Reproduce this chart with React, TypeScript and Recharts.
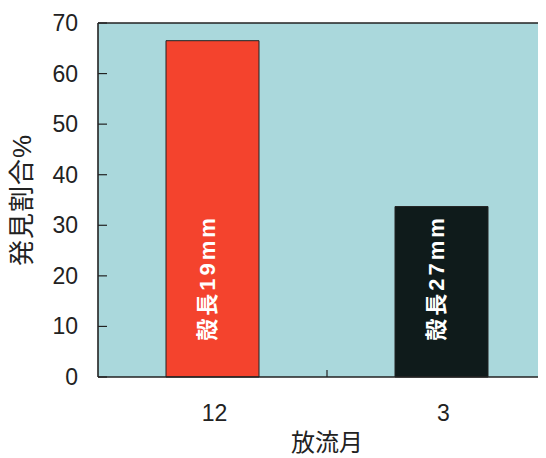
import React from "react";
import {
  BarChart,
  Bar,
  XAxis,
  YAxis,
  CartesianGrid,
  ReferenceLine,
  LabelList,
  Label,
  Cell,
} from "recharts";

// release month, share of shells found (%), shell length at release
const months = ["12", "3"];
const foundRates = [66.5, 33.7];
const shellLengths = ["殻長19mm", "殻長27mm"];
const yTicks = [0, 10, 20, 30, 40, 50, 60, 70];
const barColors = ["#f4432d", "#0f1b1b"];

const data = months.map((m, i) => ({
  month: m,
  rate: foundRates[i],
  size: shellLengths[i],
}));

const FONT = "'Liberation Sans', 'Noto Sans CJK JP', sans-serif";
const INK = "#222";

// y ticks point into the plot
const YTick = (props: any) => {
  const { x, y, payload } = props;
  return (
    <g>
      <line x1={x} y1={y} x2={x + 9} y2={y} stroke={INK} strokeWidth={1.2} />
      <text
        x={x - 20}
        y={y}
        dy={8}
        textAnchor="end"
        fontSize={23}
        fontFamily={FONT}
        fill={INK}
      >
        {payload.value}
      </text>
    </g>
  );
};

// month labels; a short inward tick marks the boundary between months
const XTick = (props: any) => {
  const { x, y, payload, index } = props;
  const half = payload.offset ?? 0;
  return (
    <g>
      {index === 0 && (
        <line
          x1={x + half}
          y1={y}
          x2={x + half}
          y2={y - 7}
          stroke={INK}
          strokeWidth={1.2}
        />
      )}
      <text
        x={x + 2}
        y={y + 36}
        dy={8}
        textAnchor="middle"
        fontSize={23}
        fontFamily={FONT}
        fill={INK}
      >
        {payload.value}
      </text>
    </g>
  );
};

const SizeLabel = (props: any) => {
  const { x, y, width, height, value } = props;
  const cx = x + width / 2 - 5;
  const cy = y + height - 99;
  return (
    <text
      x={cx}
      y={cy}
      transform={`rotate(-90 ${cx} ${cy})`}
      textAnchor="middle"
      dominantBaseline="central"
      fontSize={22}
      fontWeight="bold"
      letterSpacing={3}
      fontFamily={FONT}
      fill="#fff"
    >
      {value}
    </text>
  );
};

export default function App() {
  return (
    <div style={{ width: 538, height: 450, overflow: "hidden" }}>
      <BarChart
        width={560}
        height={450}
        data={data}
        margin={{ top: 15, right: 12, left: 0, bottom: 0 }}
      >
        <CartesianGrid
          horizontal={false}
          vertical={false}
          fill="#aad8dc"
          stroke="none"
        />
        <XAxis
          dataKey="month"
          height={81}
          tickSize={0}
          tickMargin={0}
          tickLine={false}
          axisLine={{ stroke: INK, strokeWidth: 1.6 }}
          tick={<XTick />}
        >
          <Label
            content={(p: any) => {
              const vb = p.viewBox;
              return (
                <text
                  x={vb.x + vb.width / 2}
                  y={434}
                  dy={9}
                  textAnchor="middle"
                  fontSize={24}
                  fontFamily={FONT}
                  fill={INK}
                >
                  放流月
                </text>
              );
            }}
          />
        </XAxis>
        <YAxis
          width={90}
          domain={[0, 70]}
          ticks={yTicks}
          interval={0}
          tickSize={0}
          tickMargin={0}
          tickLine={false}
          axisLine={{ stroke: INK, strokeWidth: 1.6 }}
          tick={<YTick />}
        >
          <Label
            content={(p: any) => {
              const vb = p.viewBox;
              const cx = 14;
              const cy = vb.y + vb.height / 2;
              return (
                <text
                  x={cx}
                  y={cy}
                  transform={`rotate(-90 ${cx} ${cy})`}
                  textAnchor="middle"
                  dominantBaseline="central"
                  fontSize={26}
                  letterSpacing={1}
                  fontFamily={FONT}
                  fill={INK}
                >
                  発見割合%
                </text>
              );
            }}
          />
        </YAxis>
        <ReferenceLine y={70} stroke={INK} strokeWidth={1.6} />
        <Bar
          dataKey="rate"
          barSize={93}
          stroke={INK}
          strokeWidth={1}
          isAnimationActive={false}
        >
          {data.map((d, i) => (
            <Cell key={d.month} fill={barColors[i]} />
          ))}
          <LabelList dataKey="size" content={<SizeLabel />} />
        </Bar>
      </BarChart>
    </div>
  );
}
